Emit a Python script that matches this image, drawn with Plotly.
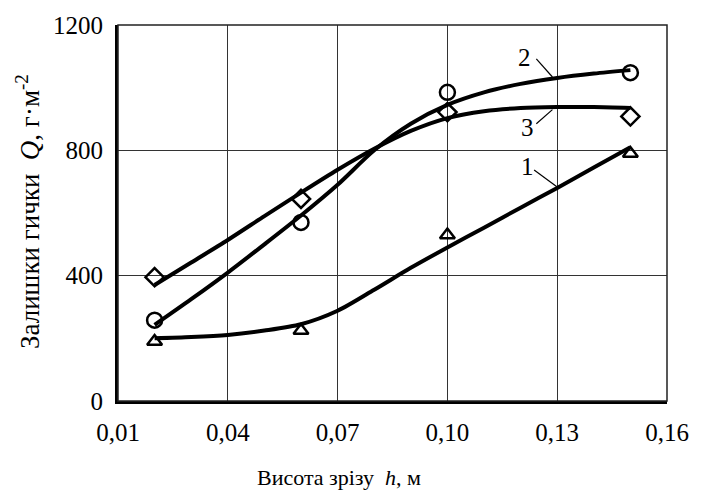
import plotly.graph_objects as go

# measured points
h_pts = [0.02, 0.06, 0.10, 0.15]
q1_pts = [190, 225, 530, 790]   # triangles (curve 1)
q2_pts = [258, 570, 985, 1048]  # circles (curve 2)
q3_pts = [395, 645, 922, 908]   # diamonds (curve 3)

# fitted curves
h_fit = [0.02, 0.03, 0.04, 0.05, 0.06, 0.07, 0.08, 0.09, 0.10, 0.11, 0.12, 0.13, 0.14, 0.15]
q1_fit = [200, 204, 211, 225, 245, 288, 355, 425, 490, 553, 617, 680, 745, 810]
q2_fit = [243, 325, 410, 500, 592, 690, 800, 885, 945, 985, 1012, 1031, 1045, 1056]
q3_fit = [370, 442, 514, 590, 665, 738, 805, 862, 903, 925, 935, 938, 938, 935]

x_ticks = [0.01, 0.04, 0.07, 0.10, 0.13, 0.16]
x_ticktext = ["0,01", "0,04", "0,07", "0,10", "0,13", "0,16"]
y_ticks = [0, 400, 800, 1200]

# curve labels: text, label pos, leader start, leader end
labels = [
    ("2", 0.1210, 1095, 0.1243, 1092, 0.1287, 1034),
    ("3", 0.1220, 872, 0.1243, 885, 0.1287, 930),
    ("1", 0.1218, 750, 0.1237, 737, 0.1300, 683),
]

FONT = "Liberation Serif, Times New Roman, serif"

fig = go.Figure()
for qy in [q1_fit, q2_fit, q3_fit]:
    fig.add_trace(go.Scatter(x=h_fit, y=qy, mode="lines",
                             line=dict(color="black", width=4, shape="spline", smoothing=0.8),
                             showlegend=False, hoverinfo="skip"))
for qy, sym, sz in [(q1_pts, "triangle-up-open", 13), (q2_pts, "circle-open", 15), (q3_pts, "diamond-open", 14)]:
    fig.add_trace(go.Scatter(x=h_pts, y=qy, mode="markers",
                             marker=dict(symbol=sym, size=sz, color="black",
                                         line=dict(color="black", width=2.5)),
                             showlegend=False))

for txt, tx, ty, x0, y0, x1, y1 in labels:
    fig.add_annotation(x=tx, y=ty, text=txt, showarrow=False,
                       font=dict(family=FONT, size=25, color="black"))
    fig.add_shape(type="line", x0=x0, y0=y0, x1=x1, y1=y1,
                  line=dict(color="black", width=1.2))

fig.update_xaxes(range=[0.01, 0.16], tickvals=x_ticks, ticktext=x_ticktext,
                 showgrid=True, gridcolor="#333333", gridwidth=1,
                 showline=True, linecolor="black", linewidth=3, mirror=False,
                 ticks="", zeroline=False, ticklabelstandoff=7,
                 tickfont=dict(family=FONT, size=25, color="black"))
fig.update_yaxes(range=[0, 1200], tickvals=y_ticks,
                 showgrid=True, gridcolor="#333333", gridwidth=1,
                 showline=True, linecolor="black", linewidth=3, mirror=False,
                 ticks="", zeroline=False, ticklabelstandoff=7,
                 tickfont=dict(family=FONT, size=25, color="black"))

# axis titles
fig.add_annotation(xref="paper", yref="paper", x=0.402, y=-0.203,
                   xanchor="center", yanchor="middle",
                   text="Висота зрізу  <i>h</i>, м", showarrow=False,
                   font=dict(family=FONT, size=22, color="black"))
fig.add_annotation(xref="paper", yref="paper", x=-0.164, y=0.505, textangle=-90,
                   xanchor="center", yanchor="middle",
                   text="Залишки гички  <i>Q</i>, г·м<sup>-2</sup>", showarrow=False,
                   font=dict(family=FONT, size=27, color="black"))

# top and right frame
fig.add_shape(type="rect", xref="paper", yref="paper", x0=0, y0=0, x1=1, y1=1,
              line=dict(color="#222222", width=1.5), layer="above")

fig.update_layout(width=701, height=491, margin=dict(l=118, r=28, t=25, b=90),
                  paper_bgcolor="white", plot_bgcolor="white")
fig.write_html("out.html", config={"displayModeBar": False},
               post_script="document.body.style.margin='0px';")
